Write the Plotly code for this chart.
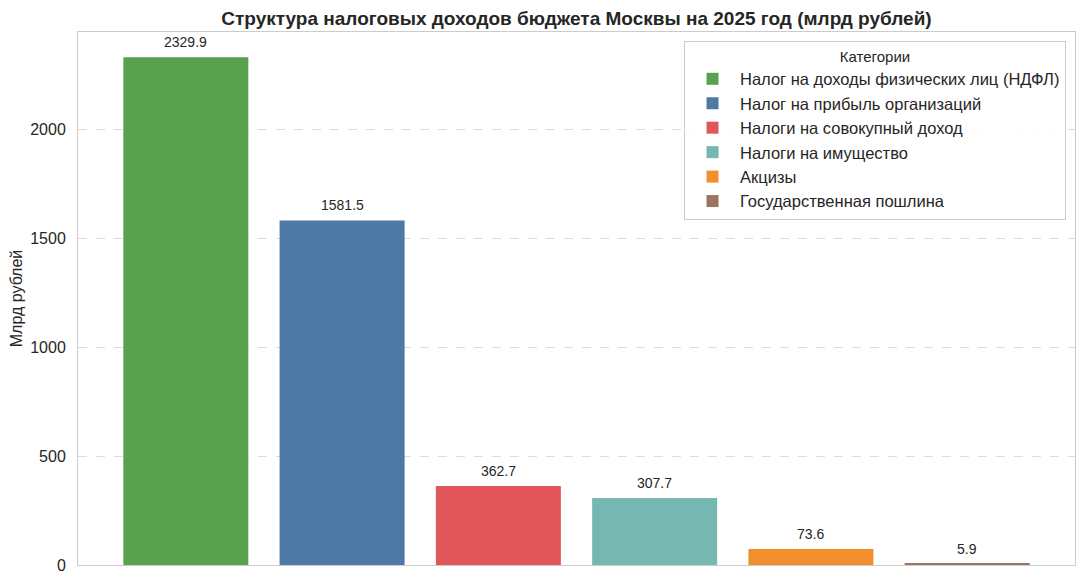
import plotly.graph_objects as go

# data
categories = ["Налог на доходы физических лиц (НДФЛ)",
              "Налог на прибыль организаций",
              "Налоги на совокупный доход",
              "Налоги на имущество",
              "Акцизы",
              "Государственная пошлина"]
values = [2329.9, 1581.5, 362.7, 307.7, 73.6, 5.9]
colors = ["#59A14F", "#4E79A7", "#E15759", "#76B7B2", "#F28E2B", "#9C755F"]

font_family = "Liberation Sans, Arial, sans-serif"

fig = go.Figure()

for i, (name, val) in enumerate(zip(categories, values)):
    fig.add_trace(go.Bar(
        x=[i],
        y=[val],
        name=name,
        width=0.8,
        marker=dict(color=colors[i], line=dict(width=0)),
        hoverinfo="y+name",
    ))
    # value label above each bar
    fig.add_annotation(
        x=i, y=val, text=f"{val:.1f}",
        showarrow=False, yanchor="bottom", yshift=5,
        font=dict(size=14, color="#262626", family=font_family),
    )

# the page body adds 8px around the figure, so margins are shifted to compensate
fig.update_layout(
    width=1084,
    height=584,
    margin=dict(l=70, r=17, t=24, b=27, autoexpand=False),
    paper_bgcolor="white",
    plot_bgcolor="white",
    font=dict(family=font_family, color="#262626"),
    title=dict(
        text="<b>Структура налоговых доходов бюджета Москвы на 2025 год (млрд рублей)</b>",
        xref="paper", x=0.5, xanchor="center",
        yref="container", y=0.983, yanchor="middle",
        font=dict(size=19, color="#262626"),
    ),
    bargap=0.2,
    legend=dict(
        title=dict(text="Категории", side="top center", font=dict(size=15)),
        x=0.991, xanchor="right", y=0.983, yanchor="top",
        bgcolor="rgba(255,255,255,0.85)",
        bordercolor="#cccccc", borderwidth=1,
        font=dict(size=16.5),
        tracegroupgap=0,
        itemwidth=45,
    ),
)

fig.update_xaxes(
    range=[-0.69, 5.69],
    showticklabels=False,
    showgrid=False,
    zeroline=False,
    showline=True, linecolor="#cccccc", linewidth=1, mirror=True,
    ticks="",
    automargin=False,
)
fig.update_yaxes(
    range=[0, 2446],
    tickvals=[0, 500, 1000, 1500, 2000],
    tickfont=dict(size=16),
    showgrid=True, gridcolor="#dddddd", griddash="dash", gridwidth=1,
    zeroline=False,
    showline=True, linecolor="#cccccc", linewidth=1, mirror=True,
    ticks="", ticklabelstandoff=8,
    title=dict(text="Млрд рублей", font=dict(size=16), standoff=6),
    automargin=False,
)

fig.write_html("out.html")
